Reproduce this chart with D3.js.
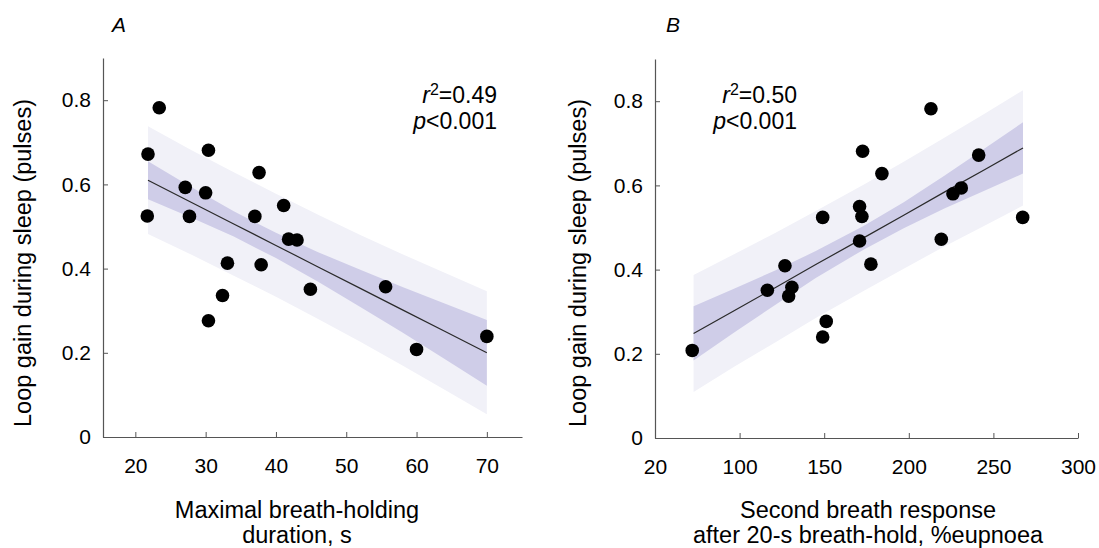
<!DOCTYPE html>
<html>
<head>
<meta charset="utf-8">
<script src="https://cdn.jsdelivr.net/npm/d3@7"></script>
<style>
  body { margin: 0; background: #fff; }
  svg text { font-family: "Liberation Sans", Arial, Helvetica, sans-serif; fill: #000; }
  .tick_label { font-size: 21px; }
  .axis_title { font-size: 23.5px; }
  .panel_letter { font-size: 21px; font-style: italic; }
  .stat_text { font-size: 23px; }
</style>
</head>
<body>
<div id="chart"></div>
<script>
// ---- panel A: breath-holding duration vs loop gain ----
let durationA = [21.8, 23.4, 21.7, 27.1, 27.7, 30.0, 30.4, 30.4, 32.4, 33.1,
                 37.6, 37.0, 37.9, 41.1, 41.8, 43.0, 44.9, 55.6, 60.0, 70.0];
let gainA = [0.672, 0.782, 0.525, 0.593, 0.524, 0.580, 0.681, 0.276, 0.336, 0.413,
             0.628, 0.524, 0.409, 0.550, 0.470, 0.468, 0.351, 0.357, 0.208, 0.239];

// fit line and bands
let bandXA = [21.8, 28, 34, 40, 46, 52, 58, 64, 70];
let fitA   = [0.610, 0.557, 0.506, 0.455, 0.404, 0.353, 0.302, 0.251, 0.200];
let ciHiA  = [0.655, 0.593, 0.536, 0.485, 0.439, 0.397, 0.356, 0.317, 0.278];
let ciLoA  = [0.565, 0.521, 0.476, 0.425, 0.369, 0.309, 0.248, 0.185, 0.122];
let piHiA  = [0.738, 0.681, 0.629, 0.578, 0.528, 0.480, 0.434, 0.390, 0.346];
let piLoA  = [0.482, 0.433, 0.383, 0.333, 0.280, 0.226, 0.170, 0.112, 0.054];

// ---- panel B: second breath response vs loop gain ----
let responseB = [72.0, 116.4, 126.8, 129.0, 130.9, 149.1, 151.2, 149.1, 170.9, 172.3,
                 170.9, 172.7, 177.6, 184.1, 213.1, 219.2, 226.1, 231.0, 241.3, 267.3];
let gainB = [0.208, 0.351, 0.409, 0.337, 0.358, 0.240, 0.277, 0.524, 0.550, 0.526,
             0.468, 0.681, 0.413, 0.628, 0.782, 0.472, 0.580, 0.594, 0.672, 0.524];

let bandXB = [72.8, 97, 121, 145, 173.5, 197, 221, 245, 267.5];
let fitB   = [0.248, 0.303, 0.357, 0.412, 0.476, 0.529, 0.584, 0.638, 0.689];
let ciHiB  = [0.313, 0.355, 0.398, 0.444, 0.504, 0.560, 0.623, 0.688, 0.750];
let ciLoB  = [0.184, 0.251, 0.316, 0.380, 0.448, 0.498, 0.545, 0.588, 0.628];
let piHiB  = [0.387, 0.437, 0.487, 0.539, 0.602, 0.656, 0.713, 0.771, 0.826];
let piLoB  = [0.109, 0.170, 0.227, 0.285, 0.350, 0.402, 0.455, 0.505, 0.552];

// axes ticks
let yTicks = [0, 0.2, 0.4, 0.6, 0.8];
let yTickLabels = ["0", "0.2", "0.4", "0.6", "0.8"];
let xTicksA = [20, 30, 40, 50, 60, 70];
let xTickLabelsA = ["20", "30", "40", "50", "60", "70"];
let xTicksB = [50, 100, 150, 200, 250, 300];
let xTickLabelsB = ["20", "100", "150", "200", "250", "300"];

let width = 1099, height = 548;

let svg = d3.select("#chart")
    .append("svg")
    .attr("width", width)
    .attr("height", height);

/**
 * Draws one scatter panel with regression bands
 */
function drawPanel(opt) {
    let x = d3.scaleLinear().domain(opt.xDomain).range([opt.left, opt.right]);
    let y = d3.scaleLinear().domain([0, 0.9]).range([opt.bottom, opt.bottom - 0.9 * 421]);

    let g = svg.append("g");

    // prediction band (light)
    let area = (lo, hi) => d3.area()
        .x((d, i) => x(opt.bandX[i]))
        .y0((d, i) => y(lo[i]))
        .y1((d, i) => y(hi[i]));

    g.append("path")
        .datum(opt.bandX)
        .attr("d", area(opt.piLo, opt.piHi))
        .attr("fill", "#f1f1f8");

    // confidence band (dark)
    g.append("path")
        .datum(opt.bandX)
        .attr("d", area(opt.ciLo, opt.ciHi))
        .attr("fill", "#cfcde8");

    // regression line
    g.append("path")
        .datum(opt.bandX)
        .attr("d", d3.line()
            .x((d, i) => x(opt.bandX[i]))
            .y((d, i) => y(opt.fit[i])))
        .attr("fill", "none")
        .attr("stroke", "#2a2a2a")
        .attr("stroke-width", 1.2);

    // points
    g.selectAll(".dot")
        .data(opt.xs)
        .enter()
        .append("circle")
        .attr("cx", d => x(d))
        .attr("cy", (d, i) => y(opt.ys[i]))
        .attr("r", 6.8)
        .attr("fill", "#000");

    // axes, ticks pointing inward
    let xAxis = d3.axisBottom(x)
        .tickValues(opt.xTicks)
        .tickSizeInner(-5)
        .tickSizeOuter(0)
        .tickFormat((d, i) => opt.xTickLabels[i])
        .tickPadding(21);
    let xg = g.append("g")
        .attr("transform", "translate(0," + opt.bottom + ")")
        .call(xAxis);

    let yAxis = d3.axisLeft(y)
        .tickValues(yTicks)
        .tickSizeInner(-5)
        .tickSizeOuter(0)
        .tickFormat((d, i) => yTickLabels[i])
        .tickPadding(12);
    let yg = g.append("g")
        .attr("transform", "translate(" + opt.left + ",0)")
        .call(yAxis);

    [xg, yg].forEach(a => {
        a.attr("font-size", null).attr("font-family", null);
        a.select(".domain").attr("stroke", "#555").attr("stroke-width", 1.2);
        a.selectAll(".tick line").attr("stroke", "#555");
        a.selectAll(".tick text")
            .classed("tick_label", true)
            .attr("fill", "#000");
    });

    // panel letter
    svg.append("text")
        .classed("panel_letter", true)
        .attr("x", opt.letterX)
        .attr("y", 32)
        .text(opt.letter);

    // y axis title
    svg.append("text")
        .classed("axis_title", true)
        .attr("transform", "translate(" + opt.yTitleX + ",263) rotate(-90)")
        .attr("text-anchor", "middle")
        .text("Loop gain during sleep (pulses)");

    // x axis title (two lines)
    opt.xTitle.forEach((line, i) => {
        svg.append("text")
            .classed("axis_title", true)
            .attr("x", opt.xTitleX)
            .attr("y", 518 + i * 25)
            .attr("text-anchor", "middle")
            .text(line);
    });

    // statistics
    let r = svg.append("text")
        .classed("stat_text", true)
        .attr("x", opt.statX)
        .attr("y", 103)
        .attr("text-anchor", "end");
    r.append("tspan").attr("font-style", "italic").text("r");
    r.append("tspan").attr("font-size", "16px").attr("dy", -8).text("2");
    r.append("tspan").attr("dy", 8).text("=" + opt.r2);

    let p = svg.append("text")
        .classed("stat_text", true)
        .attr("x", opt.statX)
        .attr("y", 129)
        .attr("text-anchor", "end");
    p.append("tspan").attr("font-style", "italic").text("p");
    p.append("tspan").text("<0.001");
}

drawPanel({
    xDomain: [15.4, 75], left: 103, right: 522, bottom: 437,
    xs: durationA, ys: gainA,
    bandX: bandXA, fit: fitA, ciLo: ciLoA, ciHi: ciHiA, piLo: piLoA, piHi: piHiA,
    xTicks: xTicksA, xTickLabels: xTickLabelsA,
    letter: "A", letterX: 112, yTitleX: 31,
    xTitle: ["Maximal breath-holding", "duration, s"], xTitleX: 297,
    statX: 497, r2: "0.49"
});

drawPanel({
    xDomain: [50, 300], left: 655, right: 1078, bottom: 438,
    xs: responseB, ys: gainB,
    bandX: bandXB, fit: fitB, ciLo: ciLoB, ciHi: ciHiB, piLo: piLoB, piHi: piHiB,
    xTicks: xTicksB, xTickLabels: xTickLabelsB,
    letter: "B", letterX: 666, yTitleX: 586,
    xTitle: ["Second breath response", "after 20-s breath-hold, %eupnoea"], xTitleX: 868,
    statX: 797, r2: "0.50"
});
</script>
</body>
</html>
